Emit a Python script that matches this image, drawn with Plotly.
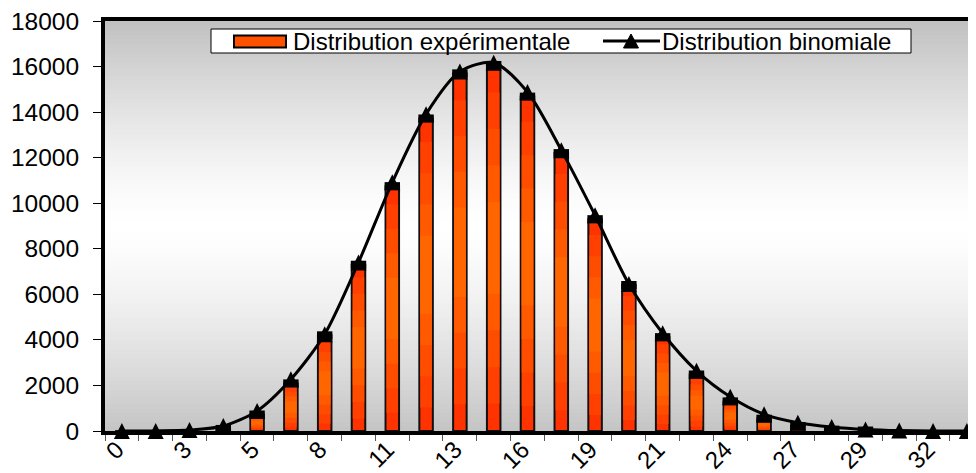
import plotly.graph_objects as go

# ---- data ----
x_labels = ['0', '1', '3', '4', '5', '7', '8', '9', '11', '12', '13', '15', '16',
            '17', '19', '20', '21', '23', '24', '25', '27', '28', '29', '31', '32', '33']
experimental = [0, 0, 0, 90, 725, 2090, 4200, 7300, 10750, 13720, 15700, 16070, 14680,
                12200, 9300, 6410, 4120, 2480, 1300, 540, 220, 60, 20, 0, 0, 0]
binomial = [0, 5, 40, 220, 880, 2270, 4250, 7400, 10920, 13910, 15780, 16170, 14880,
            12330, 9470, 6450, 4290, 2640, 1500, 730, 365, 176, 70, 20, 5, 1]
y_ticks = [0, 2000, 4000, 6000, 8000, 10000, 12000, 14000, 16000, 18000]
series_names = ["Distribution expérimentale", "Distribution binomiale"]

FONT = "Liberation Sans, Arial, sans-serif"
BAR_COLOR = "#ff5000"

fig = go.Figure()

# background vertical gradient (gray - white - gray) as thin bands
N = 90
for i in range(N):
    t0 = i / N
    t1 = (i + 1) / N
    tm = (t0 + t1) / 2
    d = abs(2 * tm - 1)
    lo = 196 if tm < 0.5 else 192
    g = int(round(255 - (255 - lo) * d ** 1.4))
    fig.add_shape(type="rect", xref="paper", yref="paper", x0=0, x1=1, y0=t0, y1=t1 + 0.002,
                  fillcolor=f"rgb({g},{g},{g})", line=dict(width=0), layer="below")

# experimental distribution: outlined bar + inner layers imitating the red/orange gradient
fig.add_trace(go.Bar(
    x=x_labels, y=experimental, name=series_names[0],
    marker=dict(color="#ff3300", line=dict(color="#111111", width=2)),
    width=0.4,
))
layers = [(0.85, "#ff4000"), (0.65, "#ff4d00"), (0.45, "#ff5a00"), (0.25, "#ff6600")]
for frac, col in layers:
    fig.add_trace(go.Bar(
        x=x_labels,
        y=[v * frac for v in experimental],
        base=[v * (1 - frac) / 2 for v in experimental],
        marker=dict(color=col, line=dict(width=0)),
        width=0.34, showlegend=False, hoverinfo="skip",
    ))

# black caps on the top of the bars
fig.add_trace(go.Scatter(
    x=x_labels, y=[v if v > 0 else None for v in experimental],
    mode="markers", showlegend=False, hoverinfo="skip",
    marker=dict(symbol="line-ew", size=11, line=dict(color="black", width=8)),
    cliponaxis=False,
))

# binomial distribution
fig.add_trace(go.Scatter(
    x=x_labels, y=binomial, name=series_names[1],
    mode="lines+markers",
    line=dict(color="black", width=3, shape="spline", smoothing=0.8),
    marker=dict(symbol="arrow-down", angle=180, size=16, color="black", standoff=8),
    cliponaxis=False,
))

# ---- legend box (drawn in paper coordinates; plot area = 871 x 410 px) ----
PW, PH = 871.0, 410.0
def px(xp):
    return (xp - 105) / PW
def py(yp):
    return (431 - yp) / PH

fig.add_shape(type="rect", xref="paper", yref="paper",
              x0=px(211), x1=px(911), y0=py(53), y1=py(29),
              fillcolor="white", line=dict(color="black", width=1), layer="above")
fig.add_shape(type="rect", xref="paper", yref="paper",
              x0=px(234), x1=px(286), y0=py(47.5), y1=py(35.5),
              fillcolor=BAR_COLOR, line=dict(color="black", width=2), layer="above")
fig.add_shape(type="line", xref="paper", yref="paper",
              x0=px(603), x1=px(660), y0=py(41), y1=py(41),
              line=dict(color="black", width=3), layer="above")
fig.add_shape(type="path", xref="paper", yref="paper",
              path=f"M {px(623.5)} {py(48)} L {px(638.5)} {py(48)} L {px(631)} {py(34)} Z",
              fillcolor="black", line=dict(color="black", width=1), layer="above")
fig.add_annotation(xref="paper", yref="paper", x=px(291), y=py(41.5),
                   xanchor="left", yanchor="middle", showarrow=False,
                   text=series_names[0], font=dict(family=FONT, size=24, color="black"))
fig.add_annotation(xref="paper", yref="paper", x=px(660), y=py(41.5),
                   xanchor="left", yanchor="middle", showarrow=False,
                   text=series_names[1], font=dict(family=FONT, size=24, color="black"))

fig.update_layout(
    width=968, height=465,
    margin=dict(l=97, r=0, t=13, b=42),
    paper_bgcolor="white", plot_bgcolor="white",
    font=dict(family=FONT, color="black", size=24),
    showlegend=False,
    barmode="overlay",
    xaxis=dict(
        type="category", range=[-0.5, 25.27], automargin=False,
        showline=True, linecolor="black", linewidth=4, mirror=True,
        ticks="outside", tickson="boundaries", ticklen=6, tickwidth=1, tickcolor="#555555",
        ticklabelstep=2, tickangle=-45, tickfont=dict(family=FONT, size=24),
        ticklabelstandoff=-9, ticklabelshift=-5, ticklabeloverflow="allow",
        showgrid=False, zeroline=False,
    ),
    yaxis=dict(
        range=[0, 18000], tickvals=y_ticks, tickformat="d", automargin=False,
        showline=True, linecolor="black", linewidth=4, mirror=True,
        ticks="outside", ticklen=8, tickwidth=1, tickcolor="black",
        ticklabelstandoff=9, tickfont=dict(family=FONT, size=24.5),
        ticklabeloverflow="allow",
        showgrid=False, zeroline=False,
    ),
)

fig.write_html("out.html")
